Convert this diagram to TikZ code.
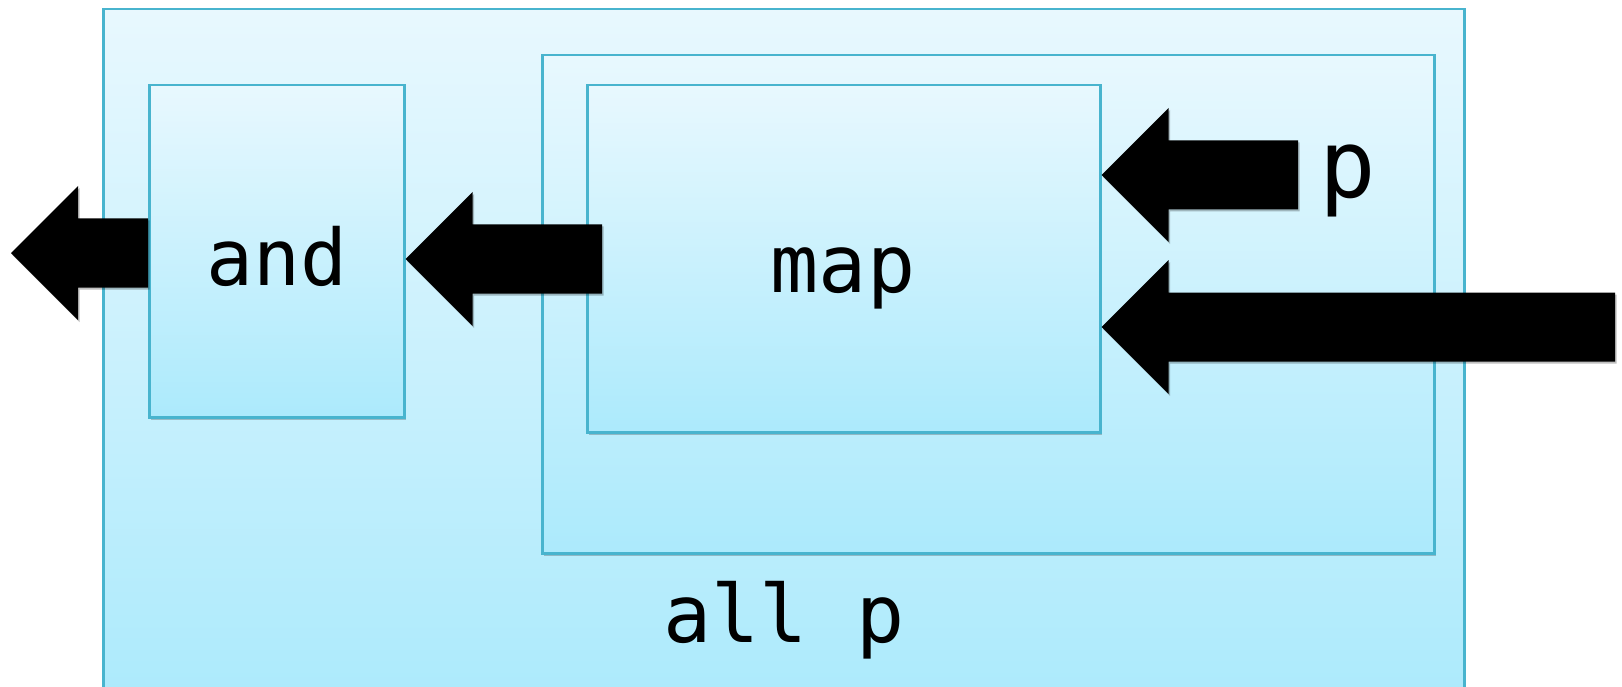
\documentclass[tikz,border=0pt]{standalone}
\usepackage{fontspec}
\newfontfamily\labfont{DejaVu Sans Mono}
\usetikzlibrary{calc,shadows}
\definecolor{boxtop}{RGB}{232,248,254}
\definecolor{boxbot}{RGB}{172,234,252}
\definecolor{boxline}{RGB}{72,180,206}
\tikzset{
  panel/.style={rectangle, draw=boxline, line width=2.5pt, top color=boxtop,
    bottom color=boxbot, inner sep=0pt, outer sep=1.25pt, anchor=north west,
    drop shadow={shadow xshift=2pt, shadow yshift=-2.5pt, opacity=0.22, fill=black}},
  lab/.style={anchor=base, inner sep=0pt, text=black,
    font=\labfont\fontsize{#1}{#1}\selectfont},
  blockarr/.style={fill=black,
    drop shadow={shadow xshift=1.5pt, shadow yshift=-2pt, opacity=0.25, fill=black}}
}
% block arrow from tail #1 to tip #2 (horizontal, pointing left)
\newcommand\blockarrow[2]{%
  \path[blockarr] let \p1=(#1), \p2=(#2) in
    (\x2,\y2) -- (\x2+67pt,\y2+67pt) -- (\x2+67pt,\y2+34.5pt)
    -- (\x1,\y2+34.5pt) -- (\x1,\y2-34.5pt) -- (\x2+67pt,\y2-34.5pt)
    -- (\x2+67pt,\y2-67pt) -- cycle;}
\begin{document}
\begin{tikzpicture}[x=1pt,y=-1pt]
\useasboundingbox (0,0) rectangle (1622,687);
\clip (0,0) rectangle (1622,687);
% boxes
\node[panel, minimum width=1361pt, minimum height=692pt] (outer) at (102,8) {};
\node[panel, minimum width=892pt, minimum height=498pt] (mapouter) at (541,54) {};
\node[panel, minimum width=255pt, minimum height=332pt] (andbox) at (148,84) {};
\node[panel, minimum width=513pt, minimum height=347pt] (mapbox) at (586,84) {};
% free ends of arrows
\coordinate (out1) at (11,253);
\coordinate (src2) at (602,259);
\coordinate (src3) at (1298,175);
\coordinate (src4) at (1615,327);
% arrows
\blockarrow{andbox.west |- out1}{out1}
\blockarrow{src2}{andbox.east |- src2}
\blockarrow{src3}{mapbox.east |- src3}
\blockarrow{src4}{mapbox.east |- src4}
% labels
\node[lab=78pt] (andlab) at (277,285) {and};
\node[lab=80pt] (maplab) at (843,292) {map};
\node[lab=80pt] (alllab) at (784,642) {all p};
\node[lab=94pt] (plab) at (1348,197) {p};
\end{tikzpicture}
\end{document}
